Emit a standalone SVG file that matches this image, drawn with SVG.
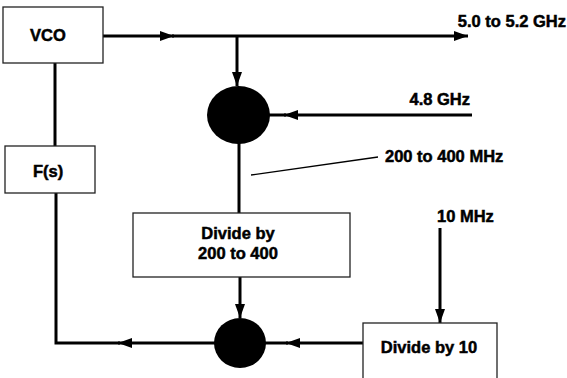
<svg xmlns="http://www.w3.org/2000/svg" width="567" height="378" viewBox="0 0 567 378">
<style>
.box{fill:#fff;stroke:#222;stroke-width:1.3}
.lbl{font-family:"Liberation Sans",Arial,sans-serif;font-weight:bold;font-size:16.5px;fill:#000;stroke:#000;stroke-width:0.5}
.w{stroke:#000;stroke-width:3;fill:none}
.thin{stroke:#000;stroke-width:1.3;fill:none}
</style>
<defs>
<marker id="ah" markerUnits="userSpaceOnUse" markerWidth="15" markerHeight="11" refX="14" refY="5.5" orient="auto">
<path d="M0,0.5 L14,5.5 L0,10.5 z" fill="#000"/>
</marker>
</defs>
<rect width="567" height="378" fill="#fff"/>
<g id="connectors">
<path class="w" d="M103,36 H174" marker-end="url(#ah)"/>
<path class="w" d="M172,36 H468" marker-end="url(#ah)"/>
<path class="w" d="M237,36 V86" marker-end="url(#ah)"/>
<path class="w" d="M472,115 H284" marker-end="url(#ah)"/>
<path class="w" d="M286,115 H268"/>
<path class="w" d="M239,142 V213"/>
<path class="w" d="M240,277 V318" marker-end="url(#ah)"/>
<path class="w" d="M216,343 H118" marker-end="url(#ah)"/>
<path class="w" d="M120,343 H56 V193"/>
<path class="w" d="M55,146 V63"/>
<path class="w" d="M363,343 H286" marker-end="url(#ah)"/>
<path class="w" d="M288,343 H264"/>
<path class="w" d="M440,228 V323" marker-end="url(#ah)"/>
<path class="thin" d="M251,175 L378,157"/>
</g>
<g id="vco">
<rect class="box" x="3" y="7" width="100" height="56"/>
<text class="lbl" x="48" y="41" text-anchor="middle">VCO</text>
</g>
<g id="filter">
<rect class="box" x="5" y="146" width="90" height="47"/>
<text class="lbl" x="48" y="177" text-anchor="middle">F(s)</text>
</g>
<g id="mixer">
<ellipse cx="238.5" cy="115" rx="31.5" ry="29" fill="#000"/>
</g>
<g id="divider">
<rect class="box" x="133" y="213" width="217" height="64"/>
<text class="lbl" x="238" y="239" text-anchor="middle">Divide by</text>
<text class="lbl" x="238" y="259" text-anchor="middle">200 to 400</text>
</g>
<g id="phase-detector">
<ellipse cx="240" cy="343" rx="26" ry="25" fill="#000"/>
</g>
<g id="div10">
<rect class="box" x="363" y="323" width="134" height="60"/>
<text class="lbl" x="429" y="353" text-anchor="middle">Divide by 10</text>
</g>
<g id="labels">
<text class="lbl" x="566" y="27" text-anchor="end">5.0 to 5.2 GHz</text>
<text class="lbl" x="470" y="105" text-anchor="end">4.8 GHz</text>
<text class="lbl" x="385" y="162">200 to 400 MHz</text>
<text class="lbl" x="437" y="222">10 MHz</text>
</g>
</svg>
